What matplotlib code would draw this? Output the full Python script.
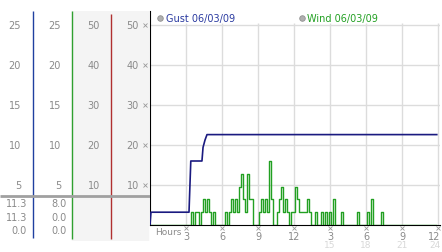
import matplotlib
matplotlib.use("Agg")
import matplotlib.pyplot as plt
import numpy as np

# gust (max so far today), hours / value
gust_hours = [0.0, 0.08, 3.25, 3.4, 4.33, 4.42, 4.58, 4.75, 23.9]
gust_vals = [0.0, 1.6, 1.6, 8.0, 8.0, 9.7, 10.6, 11.3, 11.3]

# wind, one value every 10 minutes, one row per hour
wind_vals = [
    0, 0, 0, 0, 0, 0,
    0, 0, 0, 0, 0, 0,
    0, 0, 0, 0, 0, 0,
    0, 0, 0, 1.6, 0, 1.6,
    1.6, 0, 1.6, 3.2, 1.6, 3.2,
    1.6, 0, 1.6, 0, 0, 0,
    0, 0, 1.6, 0, 1.6, 3.2,
    1.6, 3.2, 1.6, 4.8, 6.4, 3.2,
    1.6, 6.4, 3.2, 3.2, 0, 0,
    0, 1.6, 3.2, 1.6, 3.2, 1.6,
    8.0, 3.2, 0, 0, 1.6, 3.2,
    4.8, 1.6, 3.2, 1.6, 0, 1.6,
    1.6, 4.8, 3.2, 1.6, 1.6, 1.6,
    1.6, 3.2, 1.6, 0, 0, 1.6,
    0, 0, 1.6, 0, 1.6, 0,
    1.6, 0, 3.2, 0, 0, 0,
    1.6, 0, 0, 0, 0, 0,
    0, 0, 1.6, 0, 0, 0,
    0, 1.6, 0, 3.2, 0, 0,
    0, 0, 1.6, 0, 0, 0,
    0, 0, 0, 0, 0, 0,
    0, 0, 0, 0, 0, 0,
    0, 0, 0, 0, 0, 0,
    0, 0, 0, 0, 0, 0,
]
wind_hours = np.arange(len(wind_vals)) / 6.0

y_ticks = [5, 10, 15, 20, 25]
x_ticks = [3, 6, 9, 12, 15, 18, 21, 24]
x_labels = ['3', '6', '9', '12', '3', '6', '9', '12']
x_labels2 = ['15', '18', '21', '24']
legend_date = '06/03/09'

GUST_C = '#1a1a80'
WIND_C = '#22a022'
GREY = '#8a8a8a'
GRID = '#dcdcdc'

W, H = 442, 253


def px(x0, y0, x1, y1):
    return [x0 / W, 1 - y1 / H, (x1 - x0) / W, (y1 - y0) / H]


fig = plt.figure(figsize=(W / 100, H / 100), dpi=100)
plt.rcParams['font.family'] = ['DejaVu Sans']

# ---------- main plot ----------
ax = fig.add_axes(px(150, 12, 440, 226))
ax.set_xlim(0, 24.17)
ax.set_ylim(0, 26.75)
for s in ['top', 'right']:
    ax.spines[s].set_visible(False)
ax.spines['left'].set_color('black')
ax.spines['bottom'].set_color('black')
ax.set_xticks([])
ax.set_yticks([])

for t in y_ticks:
    ax.axhline(t, color=GRID, lw=1, zorder=0)
ax.vlines(x_ticks, 0, 25.3, color=GRID, lw=1, zorder=0)

ax.plot(wind_hours, wind_vals, color=WIND_C, lw=1, drawstyle='steps-mid', zorder=2)
ax.plot(gust_hours, gust_vals, color=GUST_C, lw=1.2, zorder=3)

# legend
ax.plot([0.8], [25.9], 'o', ms=4, mfc='#b0b0b0', mec='#909090', mew=0.6, clip_on=False)
ax.text(1.3, 25.9, 'Gust ' + legend_date, color='#2a3aa0', fontsize=7, va='center')
ax.plot([12.65], [25.9], 'o', ms=4, mfc='#b0b0b0', mec='#909090', mew=0.6, clip_on=False)
ax.text(13.1, 25.9, 'Wind ' + legend_date, color=WIND_C, fontsize=7, va='center')

# x labels (last one pulled in so it stays inside the picture)
tr = ax.get_xaxis_transform()
ax.text(0.4, -0.03, 'Hours', transform=tr, fontsize=6.5, color=GREY, va='center')
for i, (x, lab) in enumerate(zip(x_ticks, x_labels)):
    ax.plot([x], [-0.014], 'x', ms=2.5, mew=0.6, color='#999999', transform=tr, clip_on=False)
    last = i == len(x_ticks) - 1
    ax.text(x + 0.2 if last else x, -0.05, lab, transform=tr, fontsize=7, color=GREY,
            ha='right' if last else 'center', va='center')
for i, (x, lab) in enumerate(zip(x_ticks[4:], x_labels2)):
    last = i == len(x_labels2) - 1
    ax.text(x + 0.2 if last else x, -0.09, lab, transform=tr, fontsize=6.5, color='#d8d8d8',
            ha='right' if last else 'center', va='center')

# ---------- left scale panel ----------
axl = fig.add_axes(px(0, 12, 150, 242))
axl.set_xlim(0, 150)
axl.set_ylim(-2, 26.75)
axl.axis('off')
axl.axvspan(72, 148, color='#f4f4f4', zorder=0)
axl.vlines(33, -1.6, 26.75, color='#2040a0', lw=1)
axl.vlines(72, -1.8, 26.75, color='#30a030', lw=1)
axl.vlines(111, -1.8, 26.4, color='#b03030', lw=1)
axl.hlines(3.6, 0, 150, color='#a0a0a0', lw=2)

for t in y_ticks:
    axl.text(21, t, str(t), ha='right', va='center', fontsize=7, color=GREY)
    axl.text(61, t, str(t), ha='right', va='center', fontsize=7, color=GREY)
    axl.text(100, t, str(t * 2), ha='right', va='center', fontsize=7, color=GREY)
    axl.text(139, t, str(t * 2), ha='right', va='center', fontsize=7, color=GREY)
    axl.plot([145], [t], 'x', ms=2.5, mew=0.6, color='#999999')

gust_stats = [max(gust_vals), gust_vals[-1], min(gust_vals)]
wind_stats = [max(wind_vals), wind_vals[-1], min(wind_vals)]
for row, (g, w) in enumerate(zip(gust_stats, wind_stats)):
    y = 2.75 - row * 1.7
    axl.text(27, y, f'{g:.1f}', ha='right', va='center', fontsize=7, color=GREY)
    axl.text(67, y, f'{w:.1f}', ha='right', va='center', fontsize=7, color=GREY)

fig.savefig('out.png', dpi=100)
